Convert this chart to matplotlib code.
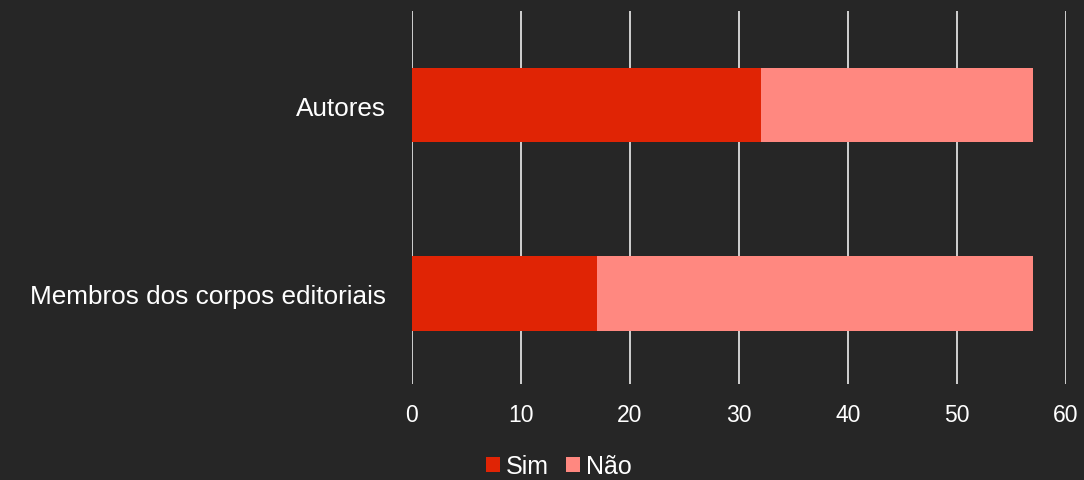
import numpy as np
import matplotlib.pyplot as plt

plt.rcParams['font.family'] = ['Liberation Sans', 'DejaVu Sans']

categories = ['Autores', 'Membros dos corpos editoriais']
sim = [32, 17]
nao = [25, 40]

bg = '#262626'
fig = plt.figure(figsize=(10.84, 4.81), dpi=100, facecolor=bg)
ax = fig.add_axes([412/1084, 1 - 385/481, (1066 - 412)/1084, (385 - 12)/481])
ax.set_facecolor(bg)

y = np.arange(len(categories))
ax.barh(y, sim, height=0.395, color='#e02405', label='Sim', zorder=3)
ax.barh(y, nao, left=sim, height=0.395, color='#ff8880', label='Não', zorder=3)

ax.set_xlim(0, 60)
ax.set_ylim(1.48, -0.5)
ax.set_xticks(np.arange(0, 61, 10))
ax.set_yticks(y)
ax.set_yticklabels(categories, fontsize=18.8, color='white')
ax.tick_params(axis='x', colors='white', labelsize=16.5, length=0, pad=14)
ax.tick_params(axis='y', length=0, pad=19)
ax.grid(axis='x', color='#dddddd', linewidth=1.3, zorder=0)
for s in ax.spines.values():
    s.set_visible(False)

leg = fig.legend(loc='center', bbox_to_anchor=(559/1084, 1 - 467/481), ncol=2,
                 frameon=False, fontsize=18, handlelength=0.55, handleheight=0.55,
                 handletextpad=0.25, columnspacing=0.7, labelcolor='white')

fig.savefig('out.png', facecolor=bg)
